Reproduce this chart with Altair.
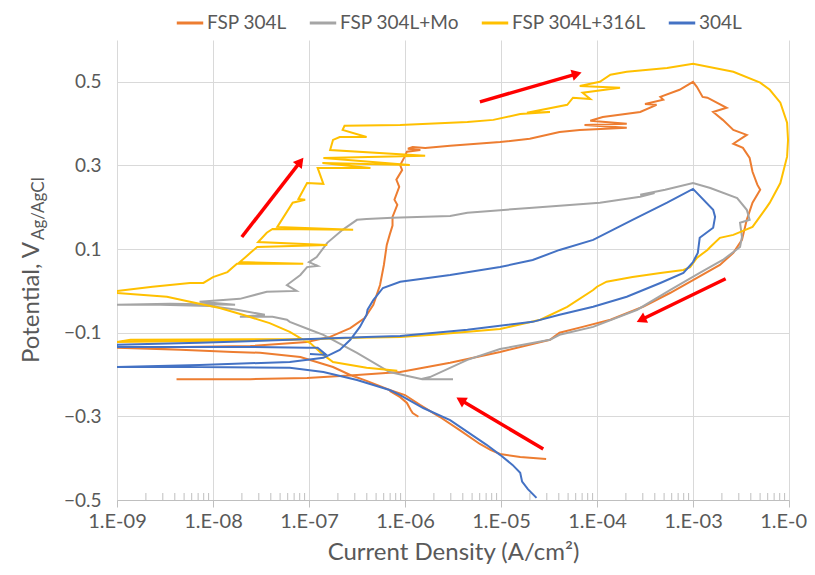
import altair as alt
import pandas as pd

series_names = ["FSP 304L", "FSP 304L+Mo", "FSP 304L+316L", "304L"]
series_colors = ["#ED7D31", "#A5A5A5", "#FFC000", "#4472C4"]

# ---- FSP 304L (log10 current, potential V) ----
fsp304l_a_logi = [-4.53, -4.80, -5.01, -5.11, -5.22, -5.43, -5.64, -5.84, -6.00, -6.16, -6.40, -6.57, -6.75, -7.09, -7.51, -7.79, -8.34, -9.00,
                  -8.34, -7.61, -7.02, -6.78, -6.57, -6.42, -6.33, -6.26, -6.22, -6.19, -6.16, -6.13, -6.13, -6.08, -6.11, -6.06, -6.09, -6.03, -6.05, -6.01, -5.98, -5.84, -5.97, -5.92, -5.79, -5.53, -5.01, -4.70, -4.39, -4.18, -3.69, -4.13, -3.69, -4.07, -3.94, -3.55, -3.38, -3.50, -3.31, -3.34, -3.14, -3.00,
                  -2.96, -2.90, -2.85, -2.65, -2.79, -2.69, -2.58, -2.44, -2.58, -2.48, -2.41, -2.38, -2.33, -2.30, -2.38, -2.44, -2.49, -2.58, -2.72, -3.00, -3.24, -3.52, -3.86, -4.15, -4.39, -4.49, -5.01, -5.53, -6.05, -6.50, -7.02, -7.61, -8.38]
fsp304l_a_v = [-0.402, -0.397, -0.390, -0.380, -0.366, -0.333, -0.301, -0.273, -0.249, -0.237, -0.215, -0.201, -0.182, -0.158, -0.148, -0.146, -0.141, -0.136,
               -0.134, -0.132, -0.122, -0.110, -0.089, -0.065, -0.033, 0.014, 0.062, 0.110, 0.134, 0.156, 0.177, 0.206, 0.218, 0.249, 0.266, 0.289, 0.301, 0.318, 0.333, 0.337, 0.340, 0.344, 0.342, 0.347, 0.356, 0.364, 0.380, 0.385, 0.390, 0.397, 0.400, 0.407, 0.416, 0.428, 0.445, 0.447, 0.457, 0.464, 0.481, 0.500,
               0.488, 0.464, 0.462, 0.438, 0.428, 0.409, 0.385, 0.373, 0.352, 0.342, 0.318, 0.285, 0.254, 0.242, 0.211, 0.170, 0.122, 0.091, 0.062, 0.026, -0.005, -0.038, -0.069, -0.086, -0.100, -0.117, -0.146, -0.172, -0.194, -0.201, -0.208, -0.211, -0.211]
fsp304l_b_logi = [-6.16, -6.05, -5.98, -5.94, -5.92, -5.86]
fsp304l_b_v = [-0.239, -0.254, -0.268, -0.285, -0.292, -0.301]

# ---- FSP 304L+Mo ----
mo_logi = [-5.50, -5.82, -6.16, -6.50, -6.85, -6.99, -7.20, -7.23, -7.38, -7.72, -7.46, -7.75, -8.03, -8.55, -9.00,
           -8.45, -7.77, -8.14, -7.72, -7.44, -7.13, -7.23, -7.09, -7.02, -6.91, -7.00, -6.92, -6.81, -6.65, -6.50, -6.40, -6.13, -5.53, -5.35, -4.67, -3.97, -3.55, -3.40, -3.55, -3.29, -3.00,
           -2.82, -2.54, -2.44, -2.41, -2.51, -2.49, -2.51, -2.69, -2.93, -3.24, -3.58, -4.04, -4.39, -4.49, -5.01, -5.35, -5.74, -5.84]
mo_v = [-0.211, -0.211, -0.194, -0.148, -0.105, -0.093, -0.074, -0.069, -0.062, -0.062, -0.057, -0.045, -0.036, -0.033, -0.033,
        -0.031, -0.033, -0.026, -0.019, -0.002, 0.000, 0.014, 0.038, 0.057, 0.060, 0.069, 0.081, 0.115, 0.146, 0.170, 0.172, 0.175, 0.179, 0.187, 0.199, 0.211, 0.225, 0.234, 0.230, 0.242, 0.258,
        0.246, 0.222, 0.194, 0.170, 0.163, 0.129, 0.105, 0.074, 0.043, 0.002, -0.045, -0.086, -0.105, -0.117, -0.139, -0.165, -0.206, -0.211]

# ---- FSP 304L+316L ----
s316_logi = [-6.08, -6.40, -6.75, -6.85, -6.99, -7.06, -7.20, -7.41, -7.69, -7.93, -8.24, -8.48, -9.00,
             -9.00, -8.63, -8.24, -8.10, -8.00, -7.85, -7.79, -7.75, -7.06, -7.72, -7.61, -7.54, -6.81, -7.53, -7.44, -7.38, -6.54, -7.33, -7.17, -7.04, -7.11, -7.02, -6.85, -6.91, -6.36, -6.86, -5.95, -6.85, -5.79, -6.78, -6.75, -6.68, -6.40, -6.65, -6.63, -6.05, -5.35, -5.08, -4.80, -4.49, -4.73, -4.31, -4.25, -4.07, -4.15, -3.76, -4.18, -3.97, -3.86, -3.69, -3.27, -3.00,
             -2.58, -2.30, -2.20, -2.09, -2.02, -2.01, -2.02, -2.09, -2.20, -2.23, -2.38, -2.58, -2.72, -2.82, -2.85, -2.96, -3.03, -3.10, -3.34, -3.63, -3.90, -4.00, -4.04, -4.31, -4.59, -5.01, -5.71, -6.05, -6.50, -7.20, -9.00, -8.86, -7.09]
s316_v = [-0.191, -0.184, -0.170, -0.153, -0.124, -0.117, -0.098, -0.077, -0.057, -0.041, -0.026, -0.014, -0.005,
          0.000, 0.010, 0.019, 0.019, 0.033, 0.045, 0.057, 0.065, 0.065, 0.069, 0.091, 0.105, 0.110, 0.117, 0.139, 0.148, 0.146, 0.153, 0.211, 0.218, 0.220, 0.258, 0.256, 0.294, 0.294, 0.306, 0.301, 0.318, 0.323, 0.337, 0.361, 0.368, 0.368, 0.385, 0.395, 0.397, 0.404, 0.409, 0.423, 0.428, 0.426, 0.445, 0.462, 0.459, 0.474, 0.486, 0.490, 0.500, 0.517, 0.524, 0.533, 0.543,
          0.524, 0.498, 0.481, 0.450, 0.402, 0.361, 0.321, 0.258, 0.211, 0.201, 0.153, 0.134, 0.127, 0.105, 0.098, 0.079, 0.057, 0.050, 0.043, 0.033, 0.022, 0.010, 0.002, -0.038, -0.069, -0.091, -0.105, -0.110, -0.112, -0.117, -0.122, -0.117, -0.115]

# ---- 304L ----
w304_logi = [-4.63, -4.72, -4.78, -4.80, -4.88, -5.01, -5.15, -5.53, -5.81, -6.05, -6.16, -6.50, -6.85, -7.20, -8.14, -9.00,
             -8.14, -7.20, -6.85, -6.68, -6.57, -6.47, -6.40, -6.39, -6.33, -6.23, -6.05, -5.53, -5.01, -4.67, -4.39, -4.04, -3.63, -3.27, -3.00,
             -2.79, -2.77, -2.79, -2.93, -2.95, -3.00, -3.10, -3.34, -3.69, -4.04, -4.39, -4.67, -5.35, -6.05, -6.40, -7.20, -8.14, -9.00,
             -9.00, -7.61, -7.02, -6.91, -6.82, -6.99]
w304_v = [-0.495, -0.474, -0.456, -0.435, -0.416, -0.392, -0.368, -0.309, -0.280, -0.249, -0.237, -0.213, -0.194, -0.184, -0.182, -0.182,
          -0.177, -0.170, -0.160, -0.141, -0.117, -0.086, -0.057, -0.045, -0.022, 0.007, 0.022, 0.038, 0.057, 0.074, 0.098, 0.122, 0.170, 0.211, 0.244,
          0.194, 0.177, 0.151, 0.127, 0.091, 0.069, 0.043, 0.019, -0.014, -0.038, -0.057, -0.074, -0.093, -0.108, -0.110, -0.117, -0.124, -0.129,
          -0.134, -0.134, -0.136, -0.136, -0.153, -0.151]

# ---- red arrows (log10 current, V) ----
arrow_start_logi = [-7.70, -5.22, -2.66, -4.56]
arrow_start_v = [0.129, 0.452, 0.029, -0.378]
arrow_head_logi = [-7.09, -4.21, -3.54, -5.42]
arrow_head_v = [0.309, 0.519, -0.069, -0.261]
arrow_head_angle = [38, 74, 244, 301]

x_tick_values = [1e-9, 1e-8, 1e-7, 1e-6, 1e-5, 1e-4, 1e-3, 1e-2]
y_tick_values = [-0.5, -0.3, -0.1, 0.1, 0.3, 0.5]
minor_ticks = [k * d for d in [1e-9, 1e-8, 1e-7, 1e-6, 1e-5, 1e-4, 1e-3] for k in range(2, 10)]

# ---- build tables ----
def build(name, parts):
    rows = []
    for seg, (lx, vv) in enumerate(parts):
        for i, (a, b) in enumerate(zip(lx, vv)):
            rows.append({"series": name, "seg": seg, "idx": i, "cur": 10 ** a, "v": b})
    return pd.DataFrame(rows)

tables = [
    build(series_names[0], [(fsp304l_a_logi, fsp304l_a_v), (fsp304l_b_logi, fsp304l_b_v)]),
    build(series_names[1], [(mo_logi, mo_v)]),
    build(series_names[2], [(s316_logi, s316_v)]),
    build(series_names[3], [(w304_logi, w304_v)]),
]

xscale = alt.Scale(type="log", domain=[1e-9, 1e-2], nice=False)
yscale = alt.Scale(domain=[-0.5, 0.6], nice=False)

xaxis = alt.Axis(values=x_tick_values,
                 labelExpr="'1.E-0' + format(-round(log(datum.value)/LN10), 'd')",
                 title="Current Density (A/cm²)", titleFontSize=24, titlePadding=9,
                 titleColor="#595959", titleFontWeight="normal",
                 labelFontSize=20, labelColor="#595959", labelPadding=4,
                 tickSize=7, tickColor="#bfbfbf", domainColor="#bfbfbf",
                 grid=True, gridColor="#d9d9d9", labelFlush=False)
yaxis = alt.Axis(values=y_tick_values, format=".1f", title=None,
                 labelFontSize=19, labelColor="#595959", labelPadding=16,
                 ticks=False, domain=False, grid=True, gridColor="#d9d9d9")

color = alt.Color("series:N",
                  scale=alt.Scale(domain=series_names, range=series_colors),
                  legend=alt.Legend(title=None, orient="none", legendX=58, legendY=-32,
                                    direction="horizontal", columns=4,
                                    symbolType="stroke", symbolSize=700, symbolStrokeWidth=3,
                                    labelFontSize=19, labelColor="#595959", columnPadding=16,
                                    labelOffset=2))

base_layers = []
for t in tables:
    base_layers.append(
        alt.Chart(t).mark_line(strokeWidth=2, clip=True).encode(
            x=alt.X("cur:Q", scale=xscale, axis=xaxis),
            y=alt.Y("v:Q", scale=yscale, axis=yaxis),
            color=color,
            detail="seg:N",
            order="idx:Q",
        )
    )

minor_df = pd.DataFrame({"m": minor_ticks})
minor = alt.Chart(minor_df).mark_rule(color="#bfbfbf", strokeWidth=1).encode(
    x=alt.X("m:Q", scale=xscale), y=alt.value(460), y2=alt.value(453))

arrows_df = pd.DataFrame({
    "x1": [10 ** a for a in arrow_start_logi], "y1": arrow_start_v,
    "x2": [10 ** a for a in arrow_head_logi], "y2": arrow_head_v,
    "ang": arrow_head_angle,
})
arrow_lines = alt.Chart(arrows_df).mark_rule(color="#FF0000", strokeWidth=3.5).encode(
    x=alt.X("x1:Q", scale=xscale), y=alt.Y("y1:Q", scale=yscale),
    x2="x2:Q", y2="y2:Q")
arrow_heads = alt.Chart(arrows_df).mark_point(shape="triangle-up", filled=True, color="#FF0000",
                                               size=130, opacity=1).encode(
    x=alt.X("x2:Q", scale=xscale), y=alt.Y("y2:Q", scale=yscale),
    angle=alt.Angle("ang:Q", scale=None))

ytitle_main = alt.Chart(pd.DataFrame({"t": ["Potential, V"]})).mark_text(
    angle=270, align="right", baseline="middle", fontSize=24, color="#595959").encode(
    text="t:N", x=alt.value(-85), y=alt.value(202))
ytitle_sub = alt.Chart(pd.DataFrame({"t": ["Ag/AgCl"]})).mark_text(
    angle=270, align="left", baseline="middle", fontSize=17, color="#595959").encode(
    text="t:N", x=alt.value(-78), y=alt.value(200))

chart = alt.layer(minor, *base_layers, arrow_lines, arrow_heads, ytitle_main, ytitle_sub).properties(
    width=672, height=460,
    autosize=alt.AutoSizeParams(type="none"),
    padding={"left": 109, "top": 32, "right": 18, "bottom": 67},
).configure(font="Lato").configure_view(stroke=None)

chart.save("out.html", embed_options={"renderer": "svg", "actions": False})
